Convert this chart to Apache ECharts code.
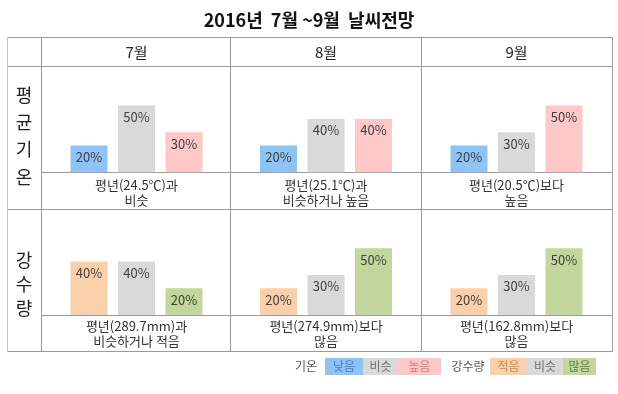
<!DOCTYPE html>
<html><head><meta charset="utf-8">
<script src="https://cdn.jsdelivr.net/npm/echarts@6/dist/echarts.min.js"></script>
<style>html,body{margin:0;padding:0;background:#fff}#c{width:618px;height:394px}</style>
</head><body><div id="c"></div>
<script>
// ---- data ----
const titleText = '2016년  7월 ~9월  날씨전망';
const months = ['7월', '8월', '9월'];
const tempCategories = ['낮음', '비슷', '높음'];
const rainCategories = ['적음', '비슷', '많음'];
const tempJul = [20, 50, 30];
const tempAug = [20, 40, 40];
const tempSep = [20, 30, 50];
const rainJul = [40, 40, 20];
const rainAug = [20, 30, 50];
const rainSep = [20, 30, 50];
const tempCaptions = ['평년(24.5℃)과\n비슷', '평년(25.1℃)과\n비슷하거나 높음', '평년(20.5℃)보다\n높음'];
const rainCaptions = ['평년(289.7mm)과\n비슷하거나 적음', '평년(274.9mm)보다\n많음', '평년(162.8mm)보다\n많음'];
const rowLabels = ['평\n균\n기\n온', '강\n수\n량'];
const legendTempTitle = '기온';
const legendRainTitle = '강수량';

// ---- styles ----
const tempColors = ['#8EC3F6', '#D9D9D9', '#FFC8C8'];
const rainColors = ['#FAD0AA', '#D9D9D9', '#C3D69B'];
const legendTempText = ['#3f7fcf', '#707070', '#d77a7a'];
const legendRainText = ['#d08a50', '#707070', '#5f7f35'];
const FONT = '"Noto Sans CJK KR", "Noto Sans", sans-serif';

const colX = [42, 231, 421, 612];
const baselines = [172.3, 315];
const plotH = 80.1;   // 60% of scale
const yMax = 60;
const catW = 47.5;

const rows = [
  { values: [tempJul, tempAug, tempSep], cats: tempCategories, colors: tempColors, captions: tempCaptions },
  { values: [rainJul, rainAug, rainSep], cats: rainCategories, colors: rainColors, captions: rainCaptions }
];

const grid = [], xAxis = [], yAxis = [], series = [];
const graphic = [];
let idx = 0;
rows.forEach((row, r) => {
  for (let c = 0; c < 3; c++) {
    const cx = (colX[c] + colX[c + 1]) / 2;
    grid.push({ left: cx - catW * 1.5, width: catW * 3, top: baselines[r] - plotH, height: plotH });
    xAxis.push({ type: 'category', gridIndex: idx, data: row.cats, show: false });
    yAxis.push({ type: 'value', gridIndex: idx, min: 0, max: yMax, show: false });
    series.push({
      type: 'bar', xAxisIndex: idx, yAxisIndex: idx, barWidth: 37, silent: true,
      data: row.values[c].map((v, k) => ({ value: v, itemStyle: { color: row.colors[k] } })),
      label: { show: true, position: 'insideTop', distance: 5, formatter: '{c}%',
               fontSize: 13, color: '#404040', fontFamily: FONT }
    });
    graphic.push({
      type: 'text', x: cx, y: r === 0 ? 192.5 : 334,
      style: { text: row.captions[c], font: '13px ' + FONT, fill: '#333', align: 'center',
               verticalAlign: 'middle', lineHeight: 15 }
    });
    idx++;
  }
});

// table lines
const lineStyle = { stroke: '#9a9a9a', lineWidth: 1 };
const hLine = (x1, x2, y) => ({ type: 'line', shape: { x1, y1: y, x2, y2: y }, style: lineStyle, silent: true });
const vLine = (x, y1, y2) => ({ type: 'line', shape: { x1: x, y1, x2: x, y2 }, style: lineStyle, silent: true });
graphic.push(hLine(7, 613, 37.5), hLine(7, 613, 66.5), hLine(7, 613, 209.5), hLine(7, 613, 351.5));
graphic.push(hLine(42, 613, 172.5), hLine(42, 613, 315.5));
graphic.push({ type: 'line', shape: { x1: 7.5, y1: 37, x2: 7.5, y2: 352 }, style: { stroke: '#c4c4c4', lineWidth: 1 }, silent: true });
[41.5, 230.5, 421.5, 612.5].forEach(x => graphic.push(vLine(x, 37, 352)));

// month headers
months.forEach((m, c) => graphic.push({
  type: 'text', x: (colX[c] + colX[c + 1]) / 2, y: 52,
  style: { text: m, font: '15px ' + FONT, fill: '#222', align: 'center', verticalAlign: 'middle' }
}));
// row labels
graphic.push({ type: 'text', x: 24, y: 136, style: { text: rowLabels[0], font: '18px ' + FONT, fill: '#222', align: 'center', verticalAlign: 'middle', lineHeight: 27.3 } });
graphic.push({ type: 'text', x: 24, y: 284, style: { text: rowLabels[1], font: '18px ' + FONT, fill: '#222', align: 'center', verticalAlign: 'middle', lineHeight: 24 } });

// custom legend
function legendGroup(titleX, title, boxes, cats, colors, textColors) {
  graphic.push({ type: 'text', x: titleX, y: 366.5, style: { text: title, font: '12px ' + FONT, fill: '#555', align: 'center', verticalAlign: 'middle' } });
  boxes.forEach((b, k) => {
    graphic.push({ type: 'rect', shape: { x: b[0], y: 358, width: b[1] - b[0], height: 17 }, style: { fill: colors[k] } });
    graphic.push({ type: 'text', x: (b[0] + b[1]) / 2, y: 366.5, style: { text: cats[k], font: '12px ' + FONT, fill: textColors[k], align: 'center', verticalAlign: 'middle' } });
  });
}
legendGroup(306, legendTempTitle, [[325, 363], [363, 398], [398, 441]], tempCategories, tempColors, legendTempText);
legendGroup(468, legendRainTitle, [[490, 527], [527, 563], [563, 596]], rainCategories, rainColors, legendRainText);

const chart = echarts.init(document.getElementById('c'), null, { renderer: 'canvas' });
chart.setOption({
  animation: false,
  backgroundColor: '#fff',
  title: { text: titleText, left: 'center', top: 6,
           textStyle: { fontSize: 18, fontWeight: 'bold', color: '#111', fontFamily: FONT } },
  grid, xAxis, yAxis, series, graphic
});
</script>
</body></html>
